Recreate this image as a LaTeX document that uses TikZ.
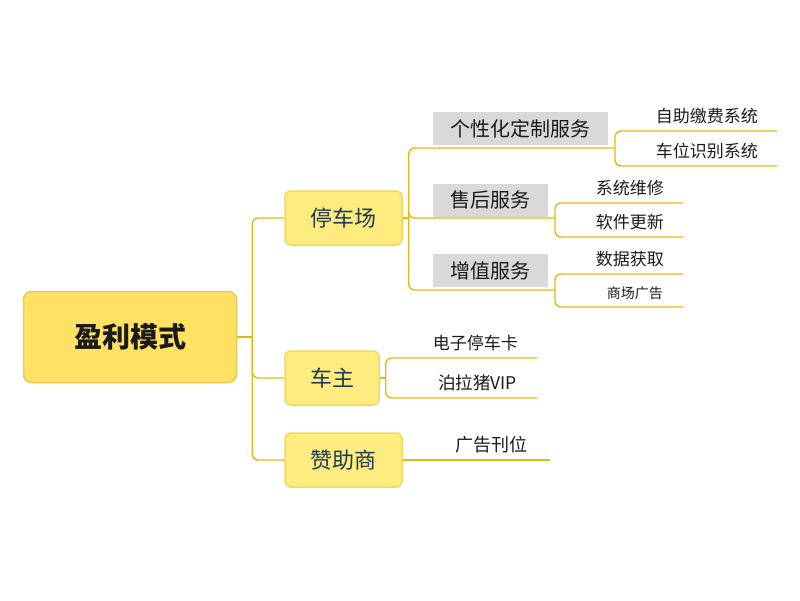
\documentclass[tikz,border=0pt]{standalone}
\usepackage{fontspec}
\setmainfont{Noto Sans CJK SC}
\usepackage{xcolor}
\usepackage{tikz}
\usetikzlibrary{positioning,calc}
\definecolor{rootfill}{HTML}{FFE163}
\definecolor{rootline}{HTML}{EACB52}
\definecolor{subfill}{HTML}{FFEC7E}
\definecolor{subline}{HTML}{F3D75E}
\definecolor{branch}{HTML}{E9B80C}
\definecolor{tagfill}{HTML}{D9D9D9}
\definecolor{navy}{HTML}{1F3A56}
\definecolor{ink}{HTML}{1A1A1A}
\tikzset{
  rootbox/.style={rounded corners=8pt,draw=rootline,line width=1.5pt,fill=rootfill,
                  minimum width=213pt,minimum height=91pt,inner sep=0pt,text=ink,
                  font=\fontsize{28}{32}\selectfont\bfseries},
  subbox/.style ={rounded corners=6pt,draw=subline,line width=1.5pt,fill=subfill,
                  minimum height=54pt,inner sep=0pt,text=navy,
                  font=\fontsize{22}{26}\selectfont},
  tagbox/.style ={fill=tagfill,minimum height=33pt,inner sep=0pt,text=ink,
                  font=\fontsize{20}{24}\selectfont},
  leaf/.style   ={anchor=south east,inner xsep=19pt,inner ysep=7pt,text=ink,
                  font=\fontsize{17}{20}\selectfont},
  link/.style   ={draw=branch,line width=1.4pt,rounded corners=6pt}
}
\begin{document}
\begin{tikzpicture}[x=1pt,y=-1pt]
  \useasboundingbox (0,0) rectangle (800,600);
  % main nodes
  \node[rootbox] (root) at (130,337) {盈利模式};
  \node[subbox,minimum width=117pt] (park)  at (343.5,218) {停车场};
  \node[subbox,minimum width=94pt]  (owner) at (332,378)   {车主};
  \node[subbox,minimum width=117pt] (spon)  at (343.5,460) {赞助商};
  % parking lot services
  \node[tagbox,minimum width=175pt] (svc1) at (520.5,128.5) {个性化定制服务};
  \node[tagbox,minimum width=115pt] (svc2) at (490.5,200)   {售后服务};
  \node[tagbox,minimum width=115pt] (svc3) at (490.5,270.5) {增值服务};
  \coordinate (svc1j) at (615,148);
  \coordinate (svc2j) at (555,218);
  \coordinate (svc3j) at (555,290);
  % leaves
  \node[leaf] (pay)   at (777,131) {自助缴费系统};
  \node[leaf] (plate) at (777,166) {车位识别系统};
  \node[leaf] (fix)   at (683,203) {系统维修};
  \node[leaf] (upd)   at (683,237) {软件更新};
  \node[leaf] (data)  at (683,274) {数据获取};
  \node[leaf,font=\fontsize{14}{17}\selectfont,inner xsep=20pt] (mall) at (683,307) {商场广告};
  \node[leaf] (card)  at (537,358) {电子停车卡};
  \node[leaf,font=\fontsize{17.5}{20}\selectfont,inner xsep=20pt] (vip) at (537,398) {泊拉猪VIP};
  \node[leaf,font=\fontsize{18}{21}\selectfont,inner xsep=22pt] (ads) at (550,460) {广告刊位};
  % connectors
  \draw[link] (root.east) -- ++(15,0) coordinate (rootj);
  \foreach \kid in {park,owner,spon}
    \draw[link] (rootj) |- (\kid.west);
  \draw[link] (park.east) -- ++(6,0) coordinate (parkj);
  \foreach \s in {svc1j,svc2j,svc3j}
    \draw[link] (parkj) |- (\s);
  \draw[link] (svc1j) |- (pay.south east);
  \draw[link] (svc1j) |- (plate.south east);
  \draw[link] (svc2j) |- (fix.south east);
  \draw[link] (svc2j) |- (upd.south east);
  \draw[link] (svc3j) |- (data.south east);
  \draw[link] (svc3j) |- (mall.south east);
  \draw[link] (owner.east) -- ++(6,0) coordinate (ownerj);
  \draw[link] (ownerj) |- (card.south east);
  \draw[link] (ownerj) |- (vip.south east);
  \draw[link] (spon.east) -- (ads.south east);
\end{tikzpicture}
\end{document}
